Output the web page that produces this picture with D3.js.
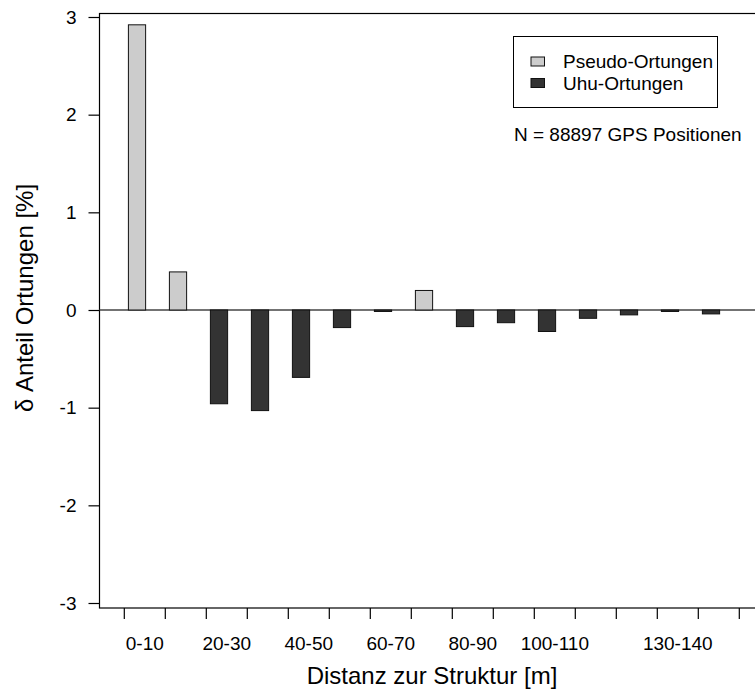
<!DOCTYPE html>
<html>
<head>
<meta charset="utf-8">
<script src="https://cdn.jsdelivr.net/npm/d3@7"></script>
<style>
  body { margin: 0; background: #fff; }
  text { font-family: "Liberation Sans", Arial, sans-serif; fill: #000; }
</style>
</head>
<body>
<div class="chart"></div>
<script>
// distance classes (m)
const categories = ['0-10', '10-20', '20-30', '30-40', '40-50', '50-60', '60-70', '70-80',
  '80-90', '90-100', '100-110', '110-120', '120-130', '130-140', '140-150']
// difference in share of fixes, pseudo minus owl [%]
const deltas = [2.92, 0.39, -0.96, -1.03, -0.69, -0.18, -0.015, 0.20,
  -0.17, -0.13, -0.22, -0.085, -0.05, -0.015, -0.04]
// labels R actually printed (others dropped for overlap)
const tickLabels = ['0-10', '', '20-30', '', '40-50', '', '60-70', '',
  '80-90', '', '100-110', '', '', '130-140', '']
const yTicks = [-3, -2, -1, 0, 1, 2, 3]
const legendNames = ['Pseudo-Ortungen', 'Uhu-Ortungen']
const legendColors = ['#cccccc', '#333333']

const width = 755
const height = 690

const svg = d3.select('.chart')
  .append('svg')
  .attr('width', width)
  .attr('height', height)

const xScale = d3.scaleBand()
  .domain(categories)
  .range([124.3, 124.3 + 15 * 41])
  .paddingInner(0)

const yScale = d3.scaleLinear()
  .domain([-3, 3])
  .range([603, 17])

// plot box
svg.append('rect')
  .attr('x', 99.5).attr('y', 13.5)
  .attr('width', 700).attr('height', 594.5)
  .attr('fill', 'none').attr('stroke', '#000').attr('stroke-width', 1.2)

// zero line
svg.append('line')
  .attr('x1', 99.5).attr('x2', width)
  .attr('y1', yScale(0)).attr('y2', yScale(0))
  .attr('stroke', '#444').attr('stroke-width', 1.5)

// bars
const bw = xScale.bandwidth()
svg.selectAll('rect.bar')
  .data(deltas)
  .enter()
  .append('rect')
  .attr('class', 'bar')
  .attr('x', (d, i) => xScale(categories[i]) + bw * 0.1)
  .attr('y', d => yScale(Math.max(0, d)))
  .attr('width', bw * 0.42)
  .attr('height', d => Math.abs(yScale(d) - yScale(0)))
  .attr('fill', d => d >= 0 ? legendColors[0] : legendColors[1])
  .attr('stroke', '#111')
  .attr('stroke-width', 1)

// y axis
const yAxis = d3.axisLeft(yScale)
  .tickValues(yTicks)
  .tickFormat(d => String(d))
  .tickSize(11)
  .tickPadding(12)
const gy = svg.append('g').attr('transform', 'translate(99.5,0)').call(yAxis)
gy.select('.domain').remove()
gy.selectAll('line').attr('stroke', '#000').attr('stroke-width', 1.2)
gy.selectAll('text').style('font-size', '19px').style('font-family', '"Liberation Sans", Arial, sans-serif')

// x axis: ticks at band edges, labels centred in bands
const edges = categories.map(c => xScale(c)).concat([xScale(categories[14]) + bw])
svg.selectAll('line.xtick')
  .data(edges)
  .enter()
  .append('line')
  .attr('x1', d => d).attr('x2', d => d)
  .attr('y1', 608).attr('y2', 619)
  .attr('stroke', '#000').attr('stroke-width', 1.2)

svg.selectAll('text.xlab')
  .data(tickLabels)
  .enter()
  .append('text')
  .attr('x', (d, i) => xScale(categories[i]) + bw / 2)
  .attr('y', 650)
  .attr('text-anchor', 'middle')
  .style('font-size', '19px')
  .text(d => d)

// axis titles
svg.append('text')
  .attr('x', 432).attr('y', 684)
  .attr('text-anchor', 'middle')
  .style('font-size', '24px')
  .text('Distanz zur Struktur [m]')

svg.append('text')
  .attr('transform', 'translate(33,298) rotate(-90)')
  .attr('text-anchor', 'middle')
  .style('font-size', '24px')
  .text('δ Anteil Ortungen [%]')

// legend
svg.append('rect')
  .attr('x', 513.5).attr('y', 36.5)
  .attr('width', 204).attr('height', 71)
  .attr('fill', '#fff').attr('stroke', '#000').attr('stroke-width', 1)

const rowY = [61.5, 83]
legendNames.forEach((name, i) => {
  svg.append('rect')
    .attr('x', 531).attr('y', rowY[i] - 4.5)
    .attr('width', 13.5).attr('height', 9)
    .attr('fill', legendColors[i]).attr('stroke', '#111')
  svg.append('text')
    .attr('x', 563).attr('y', rowY[i])
    .attr('dominant-baseline', 'central')
    .style('font-size', '19px')
    .text(name)
})

svg.append('text')
  .attr('x', 514).attr('y', 134)
  .attr('dominant-baseline', 'central')
  .style('font-size', '19px')
  .text('N = 88897 GPS Positionen')
</script>
</body>
</html>
